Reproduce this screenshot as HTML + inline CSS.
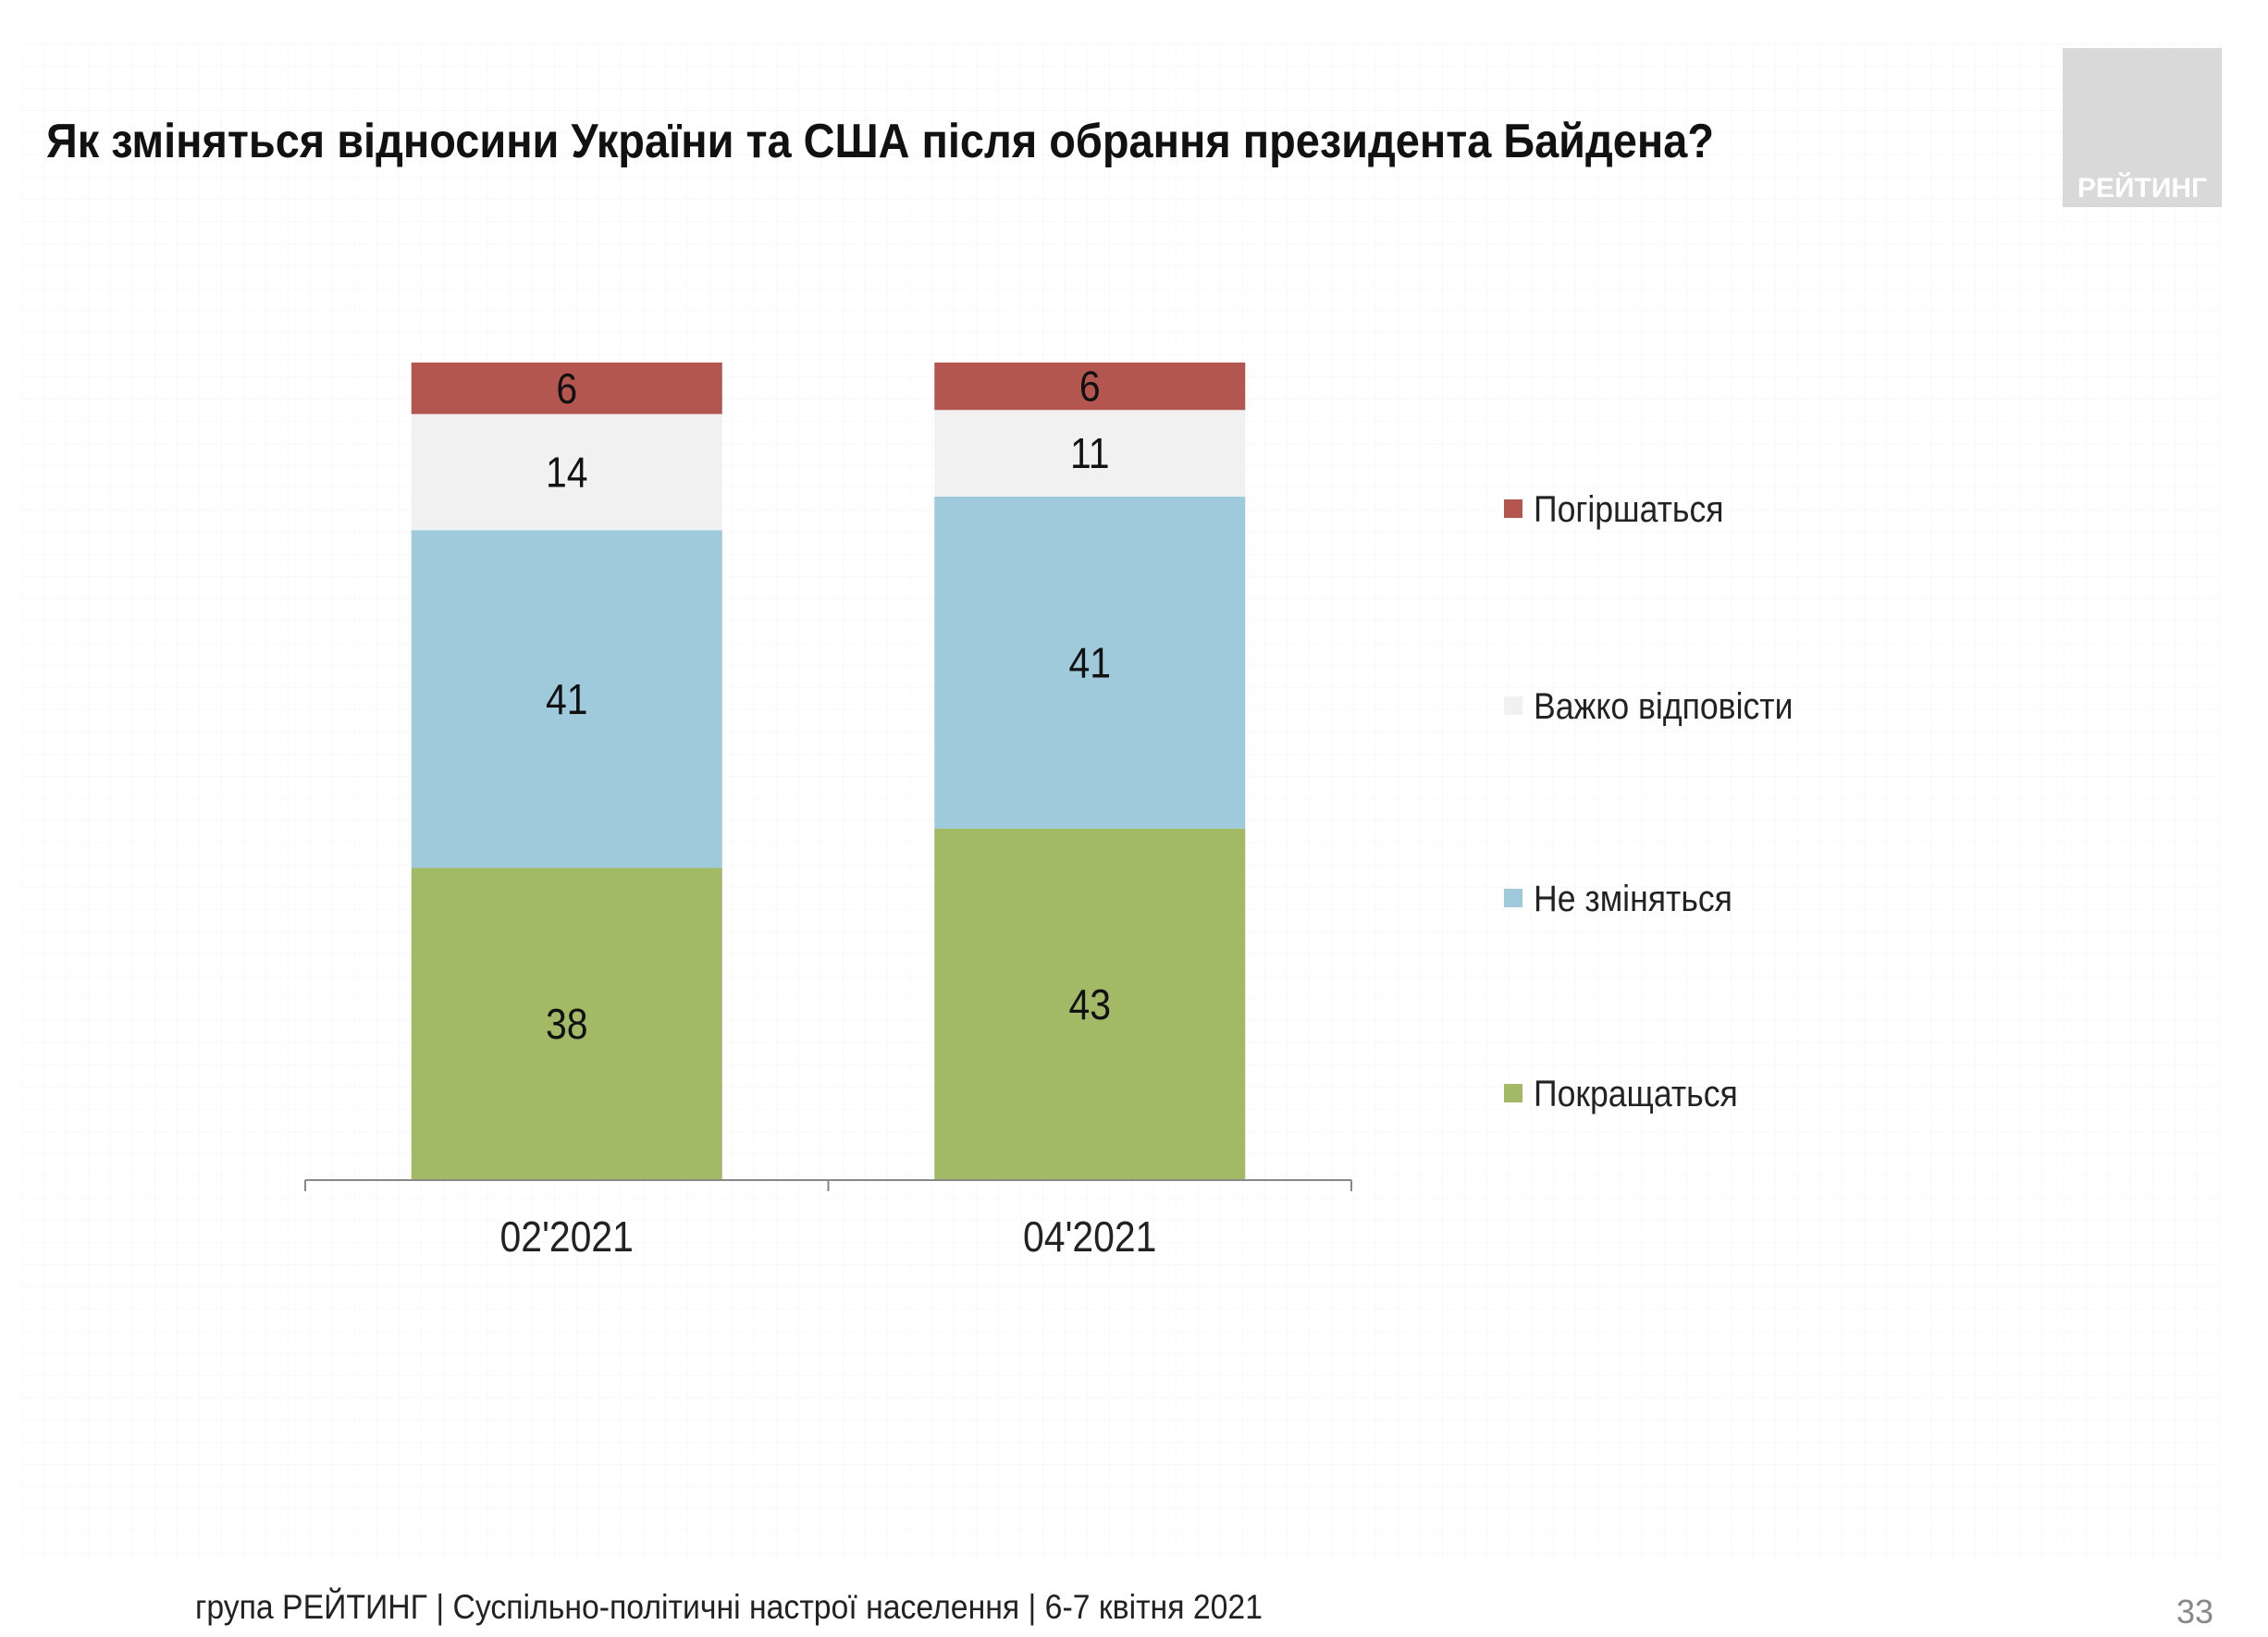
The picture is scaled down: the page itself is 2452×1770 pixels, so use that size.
<!DOCTYPE html>
<html><head><meta charset="utf-8"><style>
body{margin:0;background:#fff;}
#wrap{position:relative;width:2452px;height:1770px;overflow:hidden;background:#fff;font-family:"Liberation Sans","Noto Sans CJK SC",sans-serif;}
svg text{font-family:"Liberation Sans","Noto Sans CJK SC",sans-serif;}
</style></head><body>
<div id="wrap">
<svg id="chart" width="2452" height="1770">
<defs>
<pattern id="g" width="24" height="24" patternUnits="userSpaceOnUse"><path d="M24 0V24H0" fill="none" stroke="#f3f3f3" stroke-width="1"/></pattern>
</defs>
<rect x="23" y="47" width="2377" height="1640" fill="url(#g)"/>
<rect x="2230" y="52" width="172" height="172" fill="#d9d9d9"/>
<text x="2316" y="213" text-anchor="middle" font-size="30" font-weight="bold" fill="#fff">РЕЙТИНГ</text>
<text x="50" y="170" font-size="52" font-weight="bold" fill="#111" textLength="1803" lengthAdjust="spacingAndGlyphs">Як зміняться відносини України та США після обрання президента Байдена?</text>
<g id="bars"></g>
<g id="axis"></g>
<g id="legend"></g>
<text x="211" y="1750" font-size="37" fill="#222" textLength="1154" lengthAdjust="spacingAndGlyphs">група РЕЙТИНГ | Суспільно-політичні настрої населення | 6-7 квітня 2021</text>
<text x="2393" y="1755" text-anchor="end" font-size="36" fill="#888">33</text>
</svg>
</div>
<script>
const categories = ["02'2021", "04'2021"];
const seriesNames = ["Покращаться", "Не зміняться", "Важко відповісти", "Погіршаться"];
const improve = [38.2, 43.0];
const same = [41.3, 40.6];
const hard = [14.2, 10.6];
const worse = [6.3, 5.8];
const improveLabels = ["38", "43"];
const sameLabels = ["41", "41"];
const hardLabels = ["14", "11"];
const worseLabels = ["6", "6"];

const NS = "http://www.w3.org/2000/svg";
const colors = ["#a2b966", "#9fcadb", "#f1f1f1", "#b45650"];
const series = [improve, same, hard, worse];
const labels = [improveLabels, sameLabels, hardLabels, worseLabels];
const base = 1276, unit = 8.84;
const y = v => base - v * unit;
const axisL = 330, axisR = 1461;
const band = (axisR - axisL) / categories.length;
const barW = 336;
const SX = 0.89;
const xc = i => axisL + band * (i + 0.5);
function mk(tag, attrs, parent){const e=document.createElementNS(NS,tag);for(const k in attrs)e.setAttribute(k,attrs[k]);parent.appendChild(e);return e;}
function narrow(e, x){e.setAttribute('transform', `translate(${x},0) scale(${SX},1) translate(${-x},0)`);}
const gb = document.getElementById('bars');
categories.forEach((c, i) => {
  let cum = 0;
  series.forEach((s, j) => {
    const y0 = y(cum), y1 = y(cum + s[i]);
    const r = mk('rect', {x: xc(i) - barW/2, y: y1, width: barW, height: y0 - y1, fill: colors[j]}, gb);
    
    
    const t = mk('text', {x: xc(i), y: (y0 + y1)/2 + 16, 'text-anchor': 'middle', 'font-size': 46, fill: '#111'}, gb);
    t.textContent = labels[j][i];
    narrow(t, xc(i));
    
    
    cum += s[i];
  });
});
const ga = document.getElementById('axis');
const ax = mk('line', {x1: axisL, x2: axisR, y1: base, y2: base, stroke: '#888', 'stroke-width': 2}, ga);


for (let k = 0; k <= categories.length; k++) {
  const tk = mk('line', {x1: axisL + band*k, x2: axisL + band*k, y1: base, y2: base + 12, stroke: '#888', 'stroke-width': 2}, ga);
  
  
}
categories.forEach((c, i) => {
  const t = mk('text', {x: xc(i), y: 1353, 'text-anchor': 'middle', 'font-size': 46, fill: '#222'}, ga);
  t.textContent = c;
  narrow(t, xc(i));
  
  
});
const gl = document.getElementById('legend');
const legY = [1182, 971, 763, 550];
seriesNames.forEach((n, j) => {
  const sq = mk('rect', {x: 1626, y: legY[j] - 10, width: 20, height: 20, fill: colors[j]}, gl);
  
  
  const t = mk('text', {x: 1658, y: legY[j] + 14, 'font-size': 40, fill: '#222'}, gl);
  t.textContent = n;
  narrow(t, 1658);
  
  
});
</script>
</body></html>
